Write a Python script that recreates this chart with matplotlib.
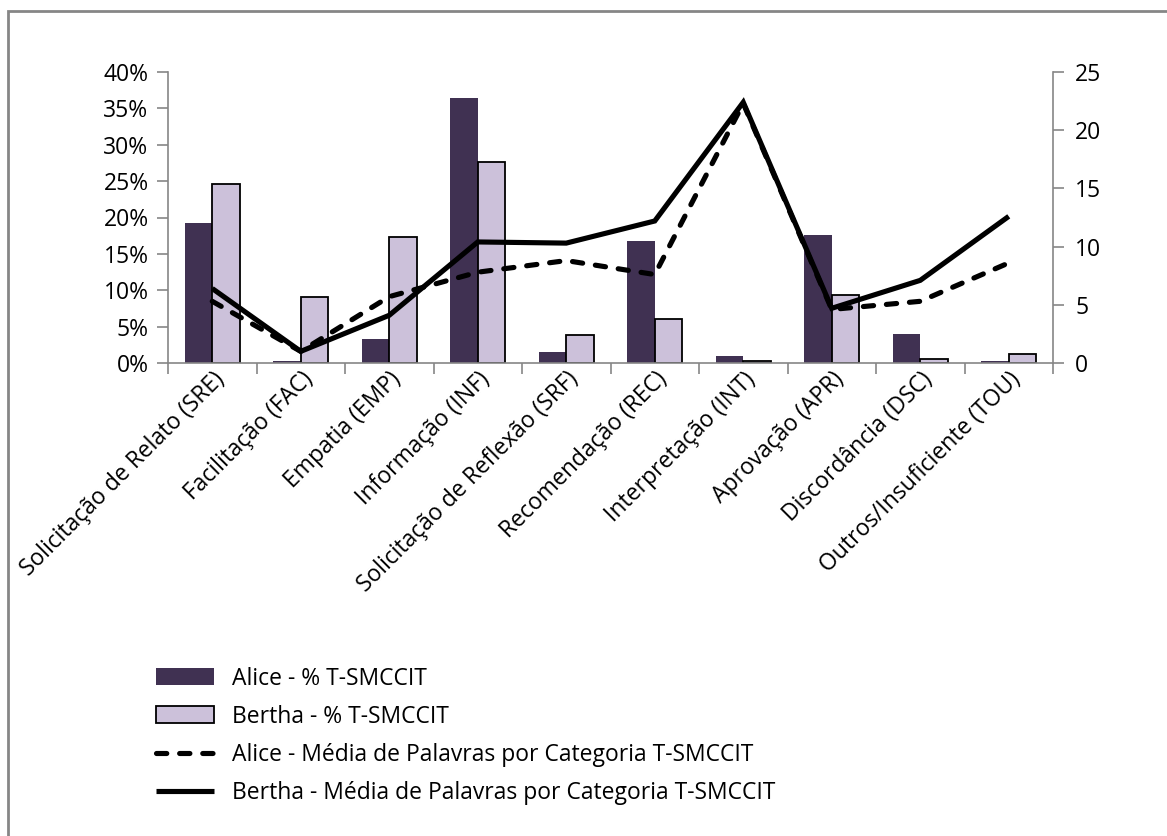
import matplotlib.pyplot as plt
import matplotlib.patches as mpatches
import numpy as np
from matplotlib.ticker import FuncFormatter

plt.rcParams['font.family'] = ['Open Sans', 'DejaVu Sans']

categories = ['Solicitação de Relato (SRE)', 'Facilitação (FAC)', 'Empatia (EMP)',
              'Informação (INF)', 'Solicitação de Reflexão (SRF)', 'Recomendação (REC)',
              'Interpretação (INT)', 'Aprovação (APR)', 'Discordância (DSC)',
              'Outros/Insuficiente (TOU)']
alice_pct = [19.2, 0.3, 3.3, 36.4, 1.5, 16.8, 1.0, 17.6, 4.0, 0.3]
bertha_pct = [24.6, 9.1, 17.3, 27.6, 3.8, 6.0, 0.3, 9.4, 0.5, 1.2]
alice_words = [5.3, 1.0, 5.7, 7.8, 8.8, 7.6, 22.3, 4.6, 5.3, 8.6]
bertha_words = [6.4, 1.0, 4.1, 10.4, 10.3, 12.2, 22.4, 4.7, 7.1, 12.6]

labels = ['Alice - % T-SMCCIT', 'Bertha - % T-SMCCIT',
          'Alice - Média de Palavras por Categoria T-SMCCIT',
          'Bertha - Média de Palavras por Categoria T-SMCCIT']

fs = 16.5
fig = plt.figure(figsize=(11.67, 8.36), dpi=100)
ax = fig.add_axes([168/1167, 1-363/836, (1053-168)/1167, (363-72)/836])
ax2 = ax.twinx()

x = np.arange(len(categories))
w = 0.31
b1 = ax.bar(x - w/2, alice_pct, w, color='#403152', edgecolor='none', zorder=2)
b2 = ax.bar(x + w/2, bertha_pct, w, color='#CCC1DA', edgecolor='black', linewidth=1.3, zorder=2)

l1, = ax2.plot(x, alice_words, color='black', lw=3.7, linestyle=(0, (2.0, 2.5)),
               dash_capstyle='round', dash_joinstyle='round')
l2, = ax2.plot(x, bertha_words, color='black', lw=3.7, solid_capstyle='butt',
               solid_joinstyle='miter')

ax.set_xlim(-0.5, len(categories) - 0.5)
ax.set_ylim(0, 40)
ax.set_yticks(np.arange(0, 41, 5))
ax.yaxis.set_major_formatter(FuncFormatter(lambda v, p: f'{int(v)}%'))
ax2.set_ylim(0, 25)
ax2.set_yticks(np.arange(0, 26, 5))

ax.set_xticks(x)
ax.set_xticklabels(categories, rotation=45, ha='right', va='top', rotation_mode='anchor')
ax.set_xticks(np.arange(-0.5, len(categories), 1), minor=True)
ax.tick_params(axis='x', which='major', length=0, pad=3, labelsize=fs)
ax.tick_params(axis='x', which='minor', length=8, color='#868686', width=1.2)
ax.tick_params(axis='y', length=8, color='#868686', width=1.2, labelsize=fs, pad=6)
ax2.tick_params(axis='y', length=8, color='#868686', width=1.2, labelsize=fs, pad=8)

for a in (ax, ax2):
    a.spines['top'].set_visible(False)
    for s in ('left', 'right', 'bottom'):
        a.spines[s].set_color('#868686')
        a.spines[s].set_linewidth(1.2)
ax.spines['right'].set_visible(False)
ax2.spines['left'].set_visible(False)
ax2.spines['bottom'].set_visible(False)

fig.legend([b1, b2, l1, l2], labels, loc='upper left',
           bbox_to_anchor=(135/1167, 1-646/836), frameon=False, fontsize=fs,
           handlelength=2.55, handleheight=0.75, handletextpad=0.8, labelspacing=0.62)

border = mpatches.Rectangle((8/1167, -0.1), 1.2, 1.1 - 11/836, transform=fig.transFigure,
                            fill=False, edgecolor='#868686', linewidth=2)
fig.patches.append(border)

fig.savefig('out.png', dpi=100)
